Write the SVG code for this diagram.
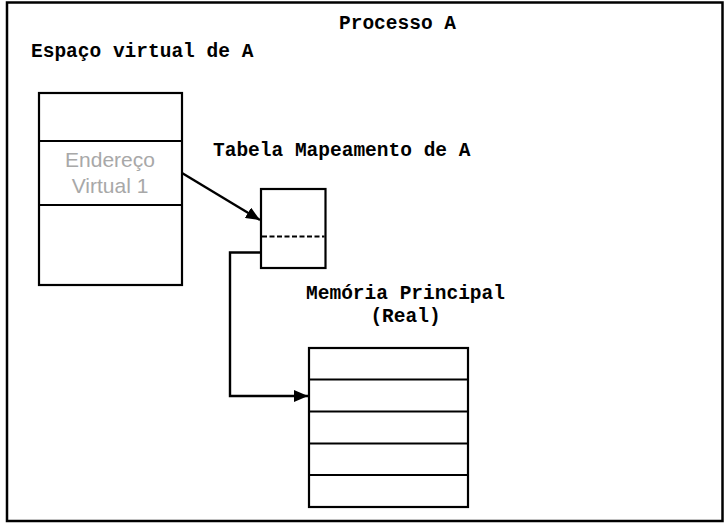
<svg xmlns="http://www.w3.org/2000/svg" width="726" height="527" viewBox="0 0 726 527">
<style>
.box{fill:none;stroke:#000;stroke-width:2.2}
.div{stroke:#000;stroke-width:2}
.mono{font-family:"Liberation Mono","Courier New",monospace;font-weight:bold;font-size:19.5px;fill:#000}
.gray{font-family:"Liberation Sans",Arial,sans-serif;font-size:21px;fill:#a8a8a8;text-anchor:middle}
.conn{fill:none;stroke:#000;stroke-width:2.4}
</style>
<defs>
<marker id="arrow" viewBox="0 0 14 12" refX="14" refY="6" markerWidth="14" markerHeight="12" markerUnits="userSpaceOnUse" orient="auto">
<path d="M0,0 L14,6 L0,12 Z" fill="#000"/>
</marker>
</defs>
<rect x="0" y="0" width="726" height="527" fill="#fff"/>
<rect id="frame" x="7" y="2.5" width="715.5" height="518.5" fill="none" stroke="#000" stroke-width="2.5"/>
<g id="titles">
<text class="mono" x="339" y="29">Processo A</text>
</g>
<g id="virtual-space">
<text class="mono" x="31" y="57">Espaço virtual de A</text>
<rect class="box" x="39" y="93" width="143" height="192"/>
<line class="div" x1="39" y1="141" x2="182" y2="141"/>
<line class="div" x1="39" y1="205" x2="182" y2="205"/>
<text class="gray" x="110" y="167">Endereço</text>
<text class="gray" x="110" y="193">Virtual 1</text>
</g>
<g id="mapping-table">
<text class="mono" x="213" y="156">Tabela Mapeamento de A</text>
<rect class="box" x="261" y="189" width="64.5" height="79"/>
<line x1="262" y1="236.5" x2="324.5" y2="236.5" stroke="#000" stroke-width="2" stroke-dasharray="5,2.5"/>
</g>
<g id="main-memory">
<text class="mono" x="405.5" y="299" text-anchor="middle">Memória Principal</text>
<text class="mono" x="405.5" y="322" text-anchor="middle">(Real)</text>
<rect class="box" x="309" y="348" width="159" height="159"/>
<line class="div" x1="309" y1="379.5" x2="468" y2="379.5"/>
<line class="div" x1="309" y1="411.5" x2="468" y2="411.5"/>
<line class="div" x1="309" y1="443.5" x2="468" y2="443.5"/>
<line class="div" x1="309" y1="475" x2="468" y2="475"/>
</g>
<g id="connectors">
<line class="conn" x1="182" y1="173" x2="260" y2="220" marker-end="url(#arrow)"/>
<polyline class="conn" points="261,252.5 230,252.5 230,396 308,396" marker-end="url(#arrow)"/>
</g>
</svg>
